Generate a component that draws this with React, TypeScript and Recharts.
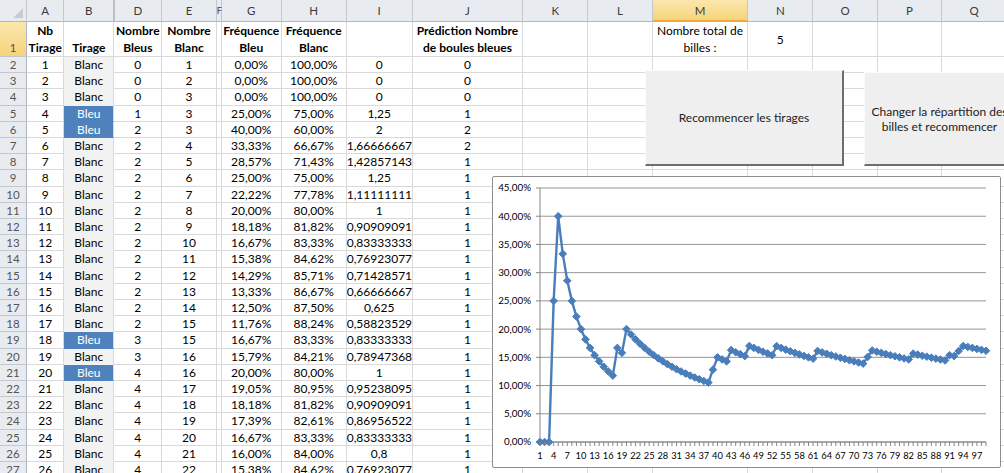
import React from "react";
import { LineChart, Line, XAxis, YAxis, CartesianGrid } from "recharts";

// ---- sheet rows 2..27 (draws 1..26)
const nbTirage = [1, 2, 3, 4, 5, 6, 7, 8, 9, 10, 11, 12, 13, 14, 15, 16, 17, 18, 19, 20, 21, 22, 23, 24, 25, 26];
const tirage = [
  "Blanc", "Blanc", "Blanc", "Bleu", "Bleu", "Blanc", "Blanc", "Blanc", "Blanc", "Blanc", "Blanc", "Blanc", "Blanc",
  "Blanc", "Blanc", "Blanc", "Blanc", "Bleu", "Blanc", "Bleu", "Blanc", "Blanc", "Blanc", "Blanc", "Blanc", "Blanc",
];
const nbBleus = [0, 0, 0, 1, 2, 2, 2, 2, 2, 2, 2, 2, 2, 2, 2, 2, 2, 3, 3, 4, 4, 4, 4, 4, 4, 4];
const nbBlancs = [1, 2, 3, 3, 3, 4, 5, 6, 7, 8, 9, 10, 11, 12, 13, 14, 15, 15, 16, 16, 17, 18, 19, 20, 21, 22];
const freqBleu = [
  "0,00%", "0,00%", "0,00%", "25,00%", "40,00%", "33,33%", "28,57%", "25,00%", "22,22%", "20,00%", "18,18%", "16,67%", "15,38%",
  "14,29%", "13,33%", "12,50%", "11,76%", "16,67%", "15,79%", "20,00%", "19,05%", "18,18%", "17,39%", "16,67%", "16,00%", "15,38%",
];
const freqBlanc = [
  "100,00%", "100,00%", "100,00%", "75,00%", "60,00%", "66,67%", "71,43%", "75,00%", "77,78%", "80,00%", "81,82%", "83,33%", "84,62%",
  "85,71%", "86,67%", "87,50%", "88,24%", "83,33%", "84,21%", "80,00%", "80,95%", "81,82%", "82,61%", "83,33%", "84,00%", "84,62%",
];
const colI = [
  "0", "0", "0", "1,25", "2", "1,66666667", "1,42857143", "1,25", "1,11111111", "1", "0,90909091", "0,83333333", "0,76923077",
  "0,71428571", "0,66666667", "0,625", "0,58823529", "0,83333333", "0,78947368", "1", "0,95238095", "0,90909091", "0,86956522",
  "0,83333333", "0,8", "0,76923077",
];
const prediction = [0, 0, 0, 1, 2, 2, 1, 1, 1, 1, 1, 1, 1, 1, 1, 1, 1, 1, 1, 1, 1, 1, 1, 1, 1, 1];

// ---- chart: blue frequency after each draw (1..99)
const freqValues = [
  0, 0, 0, 0.25, 0.4, 0.3333, 0.2857, 0.25, 0.2222, 0.2,
  0.1818, 0.1667, 0.1538, 0.1429, 0.1333, 0.125, 0.1176, 0.1667, 0.1579, 0.2,
  0.1905, 0.1818, 0.1739, 0.1667, 0.16, 0.1538, 0.1481, 0.1429, 0.1379, 0.1333,
  0.129, 0.125, 0.1212, 0.1176, 0.1143, 0.1111, 0.1081, 0.1053, 0.1282, 0.15,
  0.1463, 0.1429, 0.1628, 0.1591, 0.1556, 0.1522, 0.1702, 0.1667, 0.1633, 0.16,
  0.1569, 0.1538, 0.1698, 0.1667, 0.1636, 0.1607, 0.1579, 0.1552, 0.1525, 0.15,
  0.1475, 0.1613, 0.1587, 0.1563, 0.1538, 0.1515, 0.1493, 0.1471, 0.1449, 0.1429,
  0.1408, 0.1389, 0.1507, 0.1622, 0.16, 0.1579, 0.1558, 0.1538, 0.1519, 0.15,
  0.1481, 0.1463, 0.1566, 0.1548, 0.1529, 0.1512, 0.1494, 0.1477, 0.1461, 0.1444,
  0.1538, 0.1522, 0.1613, 0.1702, 0.1684, 0.1667, 0.1649, 0.1633, 0.1616,
];
const categories = freqValues.map((_, i) => i + 1);
const yTicks = [0, 0.05, 0.1, 0.15, 0.2, 0.25, 0.3, 0.35, 0.4, 0.45];

const chartData = categories.map((n, i) => ({ n, f: freqValues[i] }));

const FONT = "Lato, 'Open Sans', sans-serif";
const colLetters = ["", "A", "B", "D", "E", "F", "G", "H", "I", "J", "K", "L", "M", "N", "O", "P", "Q"];
const colX = [0, 27, 64.3, 114.3, 162.3, 216.7, 221.7, 281.7, 346.7, 412.7, 523.3, 588.3, 652.7, 748.3, 813.3, 877.7, 942.3, 1007];
const HEAD_H = 22;
const ROW1_H = 35;
const ROW_TOP = 57;
const ROW_H = 16.2;
const GRID = "#d9d9d9";
const HEAD_BG = "#e8ebef";
const SEL_BG = "linear-gradient(#fbe7ad, #f7d47a)";
const BLUE = "#4a7ebb";

function XTick(props: any) {
  const { x, y, payload } = props;
  const v = payload.value;
  return (
    <g>
      <line x1={x} x2={x} y1={y - 4} y2={y} stroke="#868686" />
      {(v - 1) % 3 === 0 && (
        <text x={x} y={y} dy={13} textAnchor="middle" fontSize={9.3} fontFamily={FONT} fill="#000">
          {v}
        </text>
      )}
    </g>
  );
}

function Diamond(props: any) {
  const { cx, cy } = props;
  if (cx == null || cy == null) return null;
  const r = 3.8;
  return (
    <path
      d={`M${cx},${cy - r}L${cx + r},${cy}L${cx},${cy + r}L${cx - r},${cy}Z`}
      fill={BLUE}
      stroke={BLUE}
      strokeWidth={1}
    />
  );
}

function cellBox(left: number, top: number, width: number, height: number): React.CSSProperties {
  return {
    position: "absolute",
    left,
    top,
    width,
    height,
    boxSizing: "border-box",
    borderRight: `1px solid ${GRID}`,
    borderBottom: `1px solid ${GRID}`,
    fontSize: 12,
    lineHeight: `${height}px`,
    textAlign: "center",
    whiteSpace: "nowrap",
    overflow: "hidden",
    color: "#000",
  };
}

function Sheet() {
  const cells: React.ReactNode[] = [];

  // column headers
  for (let c = 0; c < colLetters.length; c++) {
    const sel = colLetters[c] === "M";
    const narrow = colLetters[c] === "F";
    cells.push(
      <div
        key={`h${c}`}
        style={{
          ...cellBox(colX[c], 0, colX[c + 1] - colX[c], HEAD_H),
          background: sel ? SEL_BG : HEAD_BG,
          borderRight: "1px solid #c3c8cf",
          borderBottom: sel ? "2px solid #f0a93c" : "1px solid #aeb6c1",
          color: "#3b3b3b",
          fontSize: narrow ? 9 : 11.5,
          overflow: narrow ? "visible" : "hidden",
        }}
      >
        {colLetters[c]}
      </div>
    );
  }
  // corner triangle
  cells.push(
    <div
      key="corner"
      style={{
        position: "absolute",
        left: 13,
        top: 8,
        width: 0,
        height: 0,
        borderLeft: "10px solid transparent",
        borderBottom: "10px solid #c9cdd3",
      }}
    />
  );
  // hidden column C marker
  cells.push(
    <div key="hidC" style={{ position: "absolute", left: 113, top: 0, width: 2, height: HEAD_H, background: "#b9bec6" }} />
  );

  // row 1
  const row1: Record<number, React.ReactNode> = {
    1: <>Nb<br />Tirage</>,
    2: <>Tirage</>,
    3: <>Nombre<br />Bleus</>,
    4: <>Nombre<br />Blanc</>,
    6: <>Fréquence<br />Bleu</>,
    7: <>Fréquence<br />Blanc</>,
    9: <>Prédiction Nombre<br />de boules bleues</>,
  };
  for (let c = 0; c < colLetters.length; c++) {
    const w = colX[c + 1] - colX[c];
    if (c === 0) {
      cells.push(
        <div
          key="r1h"
          style={{
            ...cellBox(0, HEAD_H, w, ROW1_H),
            background: SEL_BG,
            borderRight: "1px solid #aeb6c1",
            borderBottom: "1px solid #c3c8cf",
            color: "#555",
            lineHeight: "16.3px",
            display: "flex",
            flexDirection: "column",
            justifyContent: "flex-end",
          }}
        >
          <span>1</span>
        </div>
      );
      continue;
    }
    let content: React.ReactNode = row1[c] ?? "";
    let bold = true;
    if (colLetters[c] === "M") {
      content = <>Nombre total de<br />billes :</>;
      bold = false;
    }
    if (colLetters[c] === "N") {
      cells.push(
        <div key={`r1c${c}`} style={{ ...cellBox(colX[c], HEAD_H, w, ROW1_H) }}>
          5
        </div>
      );
      continue;
    }
    cells.push(
      <div
        key={`r1c${c}`}
        style={{
          ...cellBox(colX[c], HEAD_H, w, ROW1_H),
          lineHeight: "16.3px",
          fontWeight: bold ? 700 : 400,
          display: "flex",
          flexDirection: "column",
          justifyContent: "flex-end",
        }}
      >
        <div>{content}</div>
      </div>
    );
  }

  // rows 2..27
  for (let r = 0; r < nbTirage.length; r++) {
    const top = ROW_TOP + r * ROW_H;
    cells.push(
      <div
        key={`rh${r}`}
        style={{
          ...cellBox(0, top, colX[1], ROW_H),
          background: HEAD_BG,
          borderRight: "1px solid #aeb6c1",
          borderBottom: "1px solid #c3c8cf",
          color: "#555",
          fontSize: 11.5,
        }}
      >
        {r + 2}
      </div>
    );
    const values: Record<number, React.ReactNode> = {
      1: nbTirage[r],
      2: tirage[r],
      3: nbBleus[r],
      4: nbBlancs[r],
      6: freqBleu[r],
      7: freqBlanc[r],
      8: colI[r],
      9: prediction[r],
    };
    for (let c = 1; c < colLetters.length; c++) {
      const w = colX[c + 1] - colX[c];
      const style: React.CSSProperties = cellBox(colX[c], top, w, ROW_H);
      if (c === 2) {
        const bleu = tirage[r] === "Bleu";
        style.background = bleu ? "#4f81bd" : "#f2f2f2";
        style.color = bleu ? "#fff" : "#000";
        style.borderBottom = `1px solid ${bleu ? "#4f81bd" : "#f2f2f2"}`;
        style.borderRight = `1px solid ${GRID}`;
      }
      cells.push(
        <div key={`c${r}-${c}`} style={style}>
          {values[c] ?? ""}
        </div>
      );
    }
  }
  return <>{cells}</>;
}

function Button({ left, top, width, height, children }: any) {
  return (
    <div
      style={{
        position: "absolute",
        left,
        top,
        width,
        height,
        boxSizing: "border-box",
        background: "#efefef",
        borderTop: "1px solid #fbfbfb",
        borderLeft: "1px solid #fbfbfb",
        borderRight: "2px solid #6e6e6e",
        borderBottom: "2px solid #6e6e6e",
        display: "flex",
        alignItems: "center",
        justifyContent: "center",
        textAlign: "center",
        fontSize: 12,
        lineHeight: "15px",
        color: "#222",
        whiteSpace: "nowrap",
      }}
    >
      <div>{children}</div>
    </div>
  );
}

export default function App() {
  return (
    <div
      style={{
        position: "absolute",
        left: 0,
        top: 0,
        width: 1004,
        height: 473,
        overflow: "hidden",
        background: "#fff",
        fontFamily: FONT,
      }}
    >
      <Sheet />
      <Button left={645} top={70} width={199} height={96}>
        Recommencer les tirages
      </Button>
      <Button left={864} top={72} width={152} height={94}>
        Changer la répartition des
        <br />
        billes et recommencer
      </Button>
      <div
        style={{
          position: "absolute",
          left: 492,
          top: 176,
          width: 509,
          height: 292,
          boxSizing: "border-box",
          background: "#fff",
          border: "1px solid #8e8e8e",
          borderRadius: 2,
        }}
      >
        <LineChart
          width={507}
          height={290}
          data={chartData}
          margin={{ top: 11, right: 14, bottom: 3, left: 0 }}
        >
          <CartesianGrid vertical={false} stroke="#969696" />
          <XAxis
            dataKey="n"
            type="number"
            domain={[1, 99]}
            ticks={categories}
            interval={0}
            tick={<XTick />}
            tickLine={false}
            tickSize={4}
            tickMargin={0}
            axisLine={{ stroke: "#868686" }}
            height={22}
          />
          <YAxis
            domain={[0, 0.45]}
            ticks={yTicks}
            interval={0}
            width={47}
            axisLine={{ stroke: "#868686" }}
            tickLine={{ stroke: "#868686" }}
            tickSize={4}
            tickMargin={5}
            tick={{ fill: "#000", fontSize: 9.8, fontFamily: FONT }}
            tickFormatter={(v: number) => `${(v * 100).toFixed(2).replace(".", ",")}%`}
          />
          <Line
            type="linear"
            dataKey="f"
            stroke={BLUE}
            strokeWidth={2.4}
            dot={<Diamond />}
            activeDot={false}
            isAnimationActive={false}
          />
        </LineChart>
      </div>
    </div>
  );
}
